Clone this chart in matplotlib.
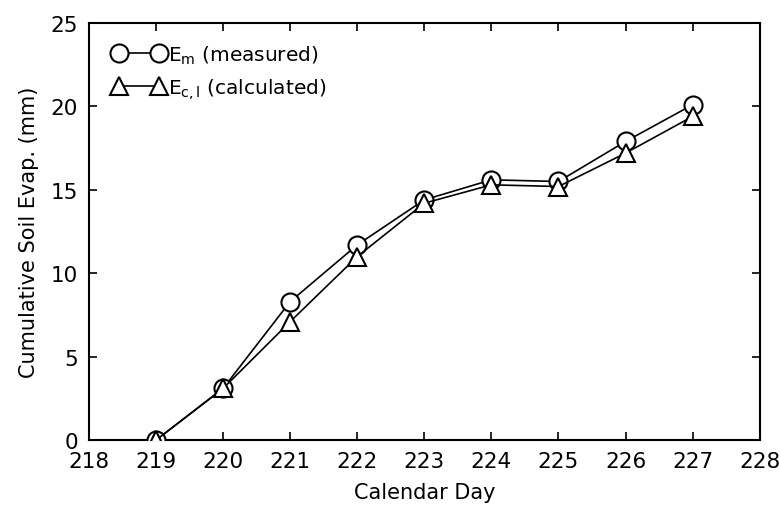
import matplotlib
matplotlib.use("Agg")
import matplotlib.pyplot as plt

days = [219, 220, 221, 222, 223, 224, 225, 226, 227]
measured = [0.0, 3.1, 8.3, 11.7, 14.4, 15.6, 15.5, 17.9, 20.1]
calculated = [0.0, 3.1, 7.1, 11.0, 14.2, 15.3, 15.2, 17.2, 19.4]
xticks = [218, 219, 220, 221, 222, 223, 224, 225, 226, 227, 228]
yticks = [0, 5, 10, 15, 20, 25]

plt.rcParams['font.family'] = ['DejaVu Sans']
plt.rcParams['mathtext.fontset'] = 'dejavusans'

fig = plt.figure(figsize=(7.8, 5.1), dpi=100)
ax = fig.add_axes([0.114, 0.135, 0.86, 0.818])

ax.plot(days, measured, color='black', lw=1.2, marker='o', ms=13,
        mfc='white', mec='black', mew=1.5,
        label=r'$\mathrm{E}_{\mathrm{m}}$ (measured)', zorder=3)
ax.plot(days, calculated, color='black', lw=1.2, marker='^', ms=13,
        mfc='white', mec='black', mew=1.5,
        label=r'$\mathrm{E}_{\mathrm{c,l}}$ (calculated)', zorder=3)

ax.set_xlim(218, 228)
ax.set_ylim(0, 25)
ax.set_xticks(xticks)
ax.set_yticks(yticks)
ax.tick_params(direction='in', top=True, right=True, length=6, width=1.2,
               labelsize=15.5, pad=8)
for s in ax.spines.values():
    s.set_linewidth(1.5)

ax.set_xlabel('Calendar Day', fontsize=15, labelpad=8)
ax.set_ylabel('Cumulative Soil Evap. (mm)', fontsize=15, labelpad=8)

leg = ax.legend(loc='upper left', bbox_to_anchor=(0.015, 0.985), frameon=False,
                numpoints=2, handlelength=2.6, handletextpad=0.15,
                fontsize=14.5, labelspacing=0.5, borderaxespad=0.3)

fig.savefig('out.png', dpi=100)
